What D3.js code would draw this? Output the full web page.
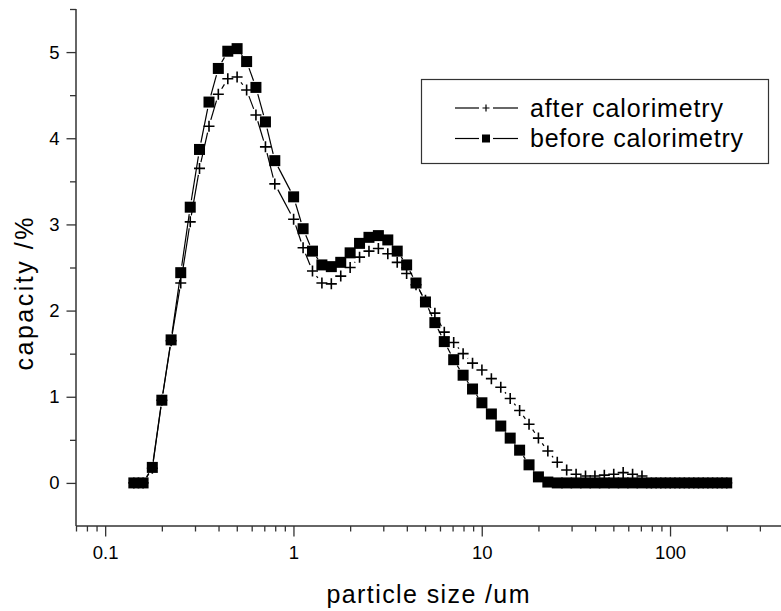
<!DOCTYPE html>
<html>
<head>
<meta charset="utf-8">
<script src="https://cdn.jsdelivr.net/npm/d3@7"></script>
<style>
    html, body { margin: 0; padding: 0; background: #fff; }
    svg { display: block; font-family: Arial, "Liberation Sans", sans-serif; }
    .axis path, .axis line { stroke: #333; }
    .axis text { fill: #000; font-size: 18.5px; }
</style>
</head>
<body>
<svg id="chart" width="781" height="611"></svg>
<script>
/* ---------- Data ---------- */
// particle size bins, um (the 0.893 bin is absent in the plotted data)
const sizes = [
    0.142, 0.159, 0.178, 0.200, 0.224, 0.252, 0.283, 0.317, 0.356, 0.399,
    0.448, 0.502, 0.564, 0.632, 0.710, 0.796, 1.002, 1.125, 1.262, 1.416,
    1.589, 1.783, 2.000, 2.244, 2.518, 2.825, 3.170, 3.557, 3.991, 4.477,
    5.024, 5.637, 6.325, 7.096, 7.962, 8.934, 10.02, 11.25, 12.62, 14.16,
    15.89, 17.83, 20.00, 22.44, 25.18, 28.25, 31.70, 35.57, 39.91, 44.77,
    50.24, 56.37, 63.25, 70.96, 79.62, 89.34, 100.2, 112.5, 126.2, 141.6,
    158.9, 178.3, 200.0
];

const afterCal = [
    0, 0, 0.17, 0.96, 1.65, 2.32, 3.03, 3.65, 4.14, 4.51,
    4.69, 4.71, 4.56, 4.27, 3.90, 3.47, 3.06, 2.73, 2.46, 2.32,
    2.31, 2.40, 2.50, 2.62, 2.69, 2.72, 2.66, 2.56, 2.43, 2.30,
    2.12, 1.97, 1.75, 1.63, 1.50, 1.39, 1.31, 1.21, 1.11, 0.98,
    0.84, 0.68, 0.52, 0.37, 0.24, 0.15, 0.10, 0.08, 0.08, 0.09,
    0.10, 0.12, 0.10, 0.08, 0, 0, 0, 0, 0, 0,
    0, 0, 0
];

const beforeCal = [
    0, 0, 0.18, 0.96, 1.66, 2.44, 3.20, 3.87, 4.42, 4.81,
    5.01, 5.04, 4.89, 4.59, 4.19, 3.74, 3.32, 2.95, 2.69, 2.53,
    2.51, 2.56, 2.67, 2.78, 2.85, 2.87, 2.82, 2.69, 2.53, 2.32,
    2.10, 1.86, 1.64, 1.43, 1.25, 1.09, 0.93, 0.80, 0.66, 0.52,
    0.38, 0.21, 0.07, 0.01, 0, 0, 0, 0, 0, 0,
    0, 0, 0, 0, 0, 0, 0, 0, 0, 0,
    0, 0, 0
];

const xMajorTicks = [0.1, 1, 10, 100];
const xTickLabels = ["0.1", "1", "10", "100"];
const yMajorTicks = [0, 1, 2, 3, 4, 5];
const yMinorTicks = [0.5, 1.5, 2.5, 3.5, 4.5, 5.5];
const seriesNames = ["after calorimetry", "before calorimetry"];

/* ---------- Scales ---------- */
const svg = d3.select("#chart");
const plot = {left: 76, right: 783.4, top: 9, bottom: 526};
const FONT = "Arial, 'Liberation Sans', sans-serif";

const x = d3.scaleLog().domain([0.07, 400]).range([plot.left, plot.right]);
const y = d3.scaleLinear().domain([-0.5, 5.5]).range([plot.bottom, plot.top]);

// minor decade ticks 0.07 .. 300
const xMinorTicks = [];
[0.01, 0.1, 1, 10, 100].forEach(dec => {
    for (let k = 2; k <= 9; k++) {
        const v = +(dec * k).toPrecision(3);
        if (v >= 0.07 && v <= 400) xMinorTicks.push(v);
    }
});

/* ---------- Axes ---------- */
function axisGroup(transform) {
    return svg.append("g").attr("class", "axis").attr("transform", transform);
}

const xMinorG = axisGroup(`translate(0,${plot.bottom})`)
    .call(d3.axisBottom(x).tickValues(xMinorTicks).tickSize(5.5).tickFormat(""));
xMinorG.select(".domain").remove();

const xMajor = axisGroup(`translate(0,${plot.bottom})`)
    .call(d3.axisBottom(x).tickValues(xMajorTicks).tickSize(10.5).tickPadding(9)
        .tickFormat((d, i) => xTickLabels[i]));
xMajor.select(".domain").attr("d", `M${plot.left},0H781`).attr("stroke-width", 1.5);

const yMinorG = axisGroup(`translate(${plot.left},0)`)
    .call(d3.axisLeft(y).tickValues(yMinorTicks).tickSize(6).tickFormat(""));
yMinorG.select(".domain").remove();

const yMajor = axisGroup(`translate(${plot.left},0)`)
    .call(d3.axisLeft(y).tickValues(yMajorTicks).tickSize(9.5).tickPadding(7)
        .tickFormat(d3.format("d")));
yMajor.select(".domain").attr("d", `M0,${plot.top}V${plot.bottom}`).attr("stroke-width", 1.5);

svg.selectAll(".axis").attr("font-family", FONT).attr("font-size", 18.5);
svg.selectAll(".axis .tick line").attr("stroke-width", 1.3);

// axis titles
svg.append("text")
    .attr("x", 428).attr("y", 603)
    .attr("text-anchor", "middle")
    .attr("font-size", 25)
    .attr("textLength", 203).attr("lengthAdjust", "spacing")
    .text("particle size /um");

svg.append("text")
    .attr("transform", "translate(33,294) rotate(-90)")
    .attr("text-anchor", "middle")
    .attr("font-size", 25)
    .attr("textLength", 153).attr("lengthAdjust", "spacing")
    .text("capacity /%");

/* ---------- Series ---------- */
const toPts = vals => sizes.map((s, i) => ({px: x(s), py: y(vals[i])}));

// connecting lines, with a gap next to each symbol
function gapSegments(pts, gap) {
    const segs = [];
    for (let i = 1; i < pts.length; i++) {
        const a = pts[i - 1], b = pts[i];
        const dx = b.px - a.px, dy = b.py - a.py;
        const len = Math.hypot(dx, dy);
        if (len <= 2 * gap) continue;
        const ux = dx / len, uy = dy / len;
        segs.push({x1: a.px + ux * gap, y1: a.py + uy * gap, x2: b.px - ux * gap, y2: b.py - uy * gap});
    }
    return segs;
}

function drawLines(pts, gap) {
    svg.append("g")
        .selectAll("line")
        .data(gapSegments(pts, gap))
        .join("line")
        .attr("x1", d => d.x1).attr("y1", d => d.y1)
        .attr("x2", d => d.x2).attr("y2", d => d.y2)
        .attr("stroke", "#000")
        .attr("stroke-width", 1.2);
}

const afterPts = toPts(afterCal);
const beforePts = toPts(beforeCal);

drawLines(afterPts, 6.5);
drawLines(beforePts, 7);

const crossPath = r => `M${-r},0H${r}M0,${-r}V${r}`;

svg.append("g")
    .selectAll("path")
    .data(afterPts)
    .join("path")
    .attr("transform", d => `translate(${d.px},${d.py})`)
    .attr("d", crossPath(5.5))
    .attr("stroke", "#000")
    .attr("stroke-width", 1.6)
    .attr("fill", "none");

svg.append("g")
    .selectAll("rect")
    .data(beforePts)
    .join("rect")
    .attr("x", d => d.px - 5.5)
    .attr("y", d => d.py - 5.5)
    .attr("width", 11)
    .attr("height", 11)
    .attr("fill", "#000");

/* ---------- Legend ---------- */
const legend = svg.append("g");
legend.append("rect")
    .attr("x", 421.5).attr("y", 79.5)
    .attr("width", 347).attr("height", 84)
    .attr("fill", "#fff").attr("stroke", "#333").attr("stroke-width", 1.2);

const rowY = [108, 138.5];
const textW = [193, 213];
seriesNames.forEach((name, i) => {
    const cy = rowY[i];
    legend.append("line").attr("x1", 455).attr("x2", 479).attr("y1", cy).attr("y2", cy)
        .attr("stroke", "#000").attr("stroke-width", 1.2);
    legend.append("line").attr("x1", 493).attr("x2", 518).attr("y1", cy).attr("y2", cy)
        .attr("stroke", "#000").attr("stroke-width", 1.2);
    if (i === 0) {
        legend.append("path").attr("transform", `translate(486,${cy})`)
            .attr("d", crossPath(3.5)).attr("stroke", "#000").attr("stroke-width", 1.2);
    } else {
        legend.append("rect").attr("x", 482).attr("y", cy - 4).attr("width", 8).attr("height", 8)
            .attr("fill", "#000");
    }
    legend.append("text")
        .attr("x", 530).attr("y", cy + 8.5)
        .attr("font-size", 25)
        .attr("textLength", textW[i]).attr("lengthAdjust", "spacing")
        .text(name);
});
</script>
</body>
</html>
